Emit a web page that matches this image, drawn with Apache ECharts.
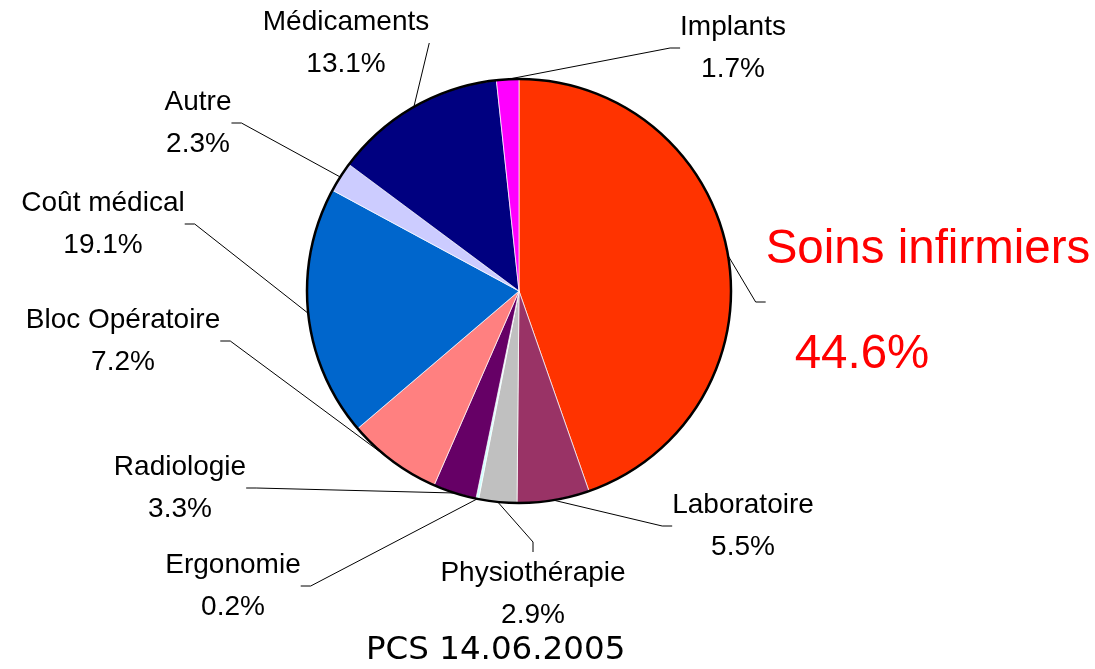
<!DOCTYPE html>
<html>
<head>
<meta charset="utf-8">
<script src="https://cdn.jsdelivr.net/npm/echarts@6/dist/echarts.min.js"></script>
<style>
  html, body { margin: 0; padding: 0; background: #fff; }
  #chart { width: 1095px; height: 669px; }
</style>
</head>
<body>
<div id="chart"></div>
<script>
// slices, clockwise from 12 o'clock
const categories = ['Soins infirmiers', 'Laboratoire', 'Physiothérapie', 'Ergonomie', 'Radiologie',
  'Bloc Opératoire', 'Coût médical', 'Autre', 'Médicaments', 'Implants'];
const shares = [44.6, 5.5, 2.9, 0.2, 3.3, 7.2, 19.1, 2.3, 13.1, 1.7];
const colors = ['#FF3300', '#993366', '#C0C0C0', '#CCFFFF', '#660066',
  '#FF8080', '#0066CC', '#CCCCFF', '#000080', '#FF00FF'];
const footer = 'PCS 14.06.2005';

// where each label block sits (center), same order as categories
const labelPos = [
  [928, 302], [743, 526], [533, 594], [233, 586], [180, 488],
  [123, 341], [103, 224], [198, 123], [346, 43], [733, 48]
];

const myChart = echarts.init(document.getElementById('chart'));

const option = {
  backgroundColor: '#fff',
  animation: false,
  title: {
    text: footer,
    left: 366,
    top: 634,
    padding: 0,
    textStyle: { fontFamily: 'DejaVu Sans', fontSize: 32.5, fontWeight: 'normal', color: '#000' }
  },
  series: [
    {
      type: 'pie',
      center: [519, 291],
      radius: 212,
      startAngle: 90,
      clockwise: true,
      avoidLabelOverlap: false,
      data: categories.map((name, i) => ({
        name: name,
        value: shares[i],
        itemStyle: { color: colors[i] }
      })),
      itemStyle: { borderColor: 'rgba(255,255,255,0.7)', borderWidth: 1 },
      label: {
        show: true,
        fontFamily: 'Liberation Sans',
        fontSize: 28,
        lineHeight: 42,
        color: '#000',
        formatter: p => p.name + '\n' + p.value.toFixed(1) + '%'
      },
      labelLine: {
        show: true,
        length: 10,
        length2: 10,
        lineStyle: { color: '#000', width: 1 }
      },
      labelLayout: p => ({
        x: labelPos[p.dataIndex][0],
        y: labelPos[p.dataIndex][1],
        align: 'center',
        verticalAlign: 'middle'
      })
    },
    {
      // black outline around the pie
      type: 'pie',
      center: [519, 291],
      radius: 212,
      silent: true,
      z: 3,
      data: [{ value: 1 }],
      itemStyle: { color: 'rgba(0,0,0,0)', borderColor: '#000', borderWidth: 2.5 },
      label: { show: false },
      labelLine: { show: false },
      emphasis: { disabled: true }
    }
  ]
};

// big red label for the main slice
option.series[0].data[0].label = {
  formatter: '{n|Soins infirmiers}\n{g|}\n{v|44.6%}',
  rich: {
    n: { fontFamily: 'Liberation Sans', fontSize: 47.5, lineHeight: 52, color: '#FF0000' },
    g: { lineHeight: 53 },
    v: { fontFamily: 'Liberation Sans', fontSize: 47.5, lineHeight: 52, color: '#FF0000', padding: [0, 132, 0, 0] }
  }
};

myChart.setOption(option);
</script>
</body>
</html>
